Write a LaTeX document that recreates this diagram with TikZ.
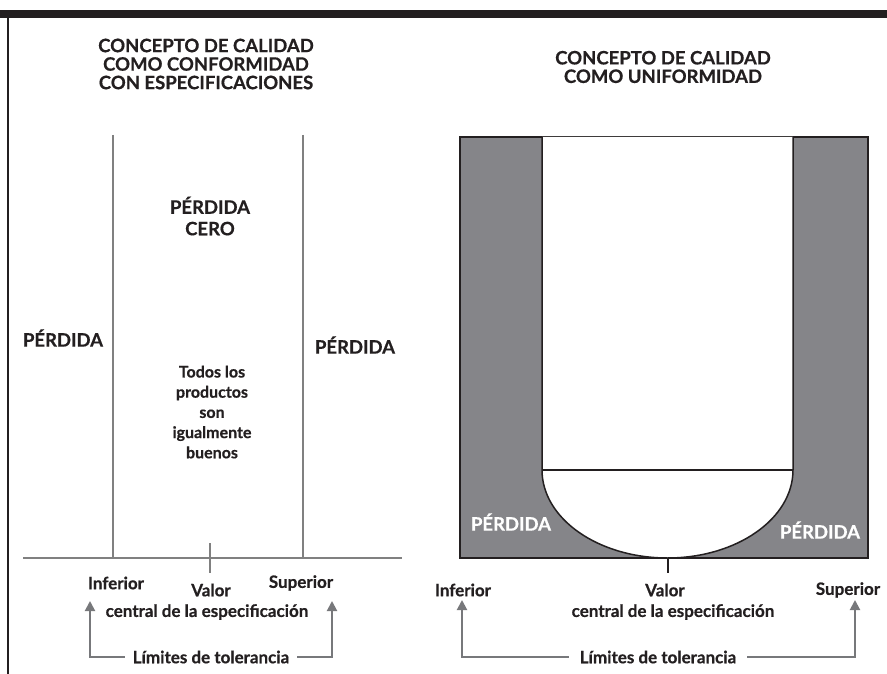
\documentclass[tikz,border=0pt]{standalone}
\usepackage{fontspec}
\setmainfont{Lato}[BoldFeatures={FakeBold=0.6}]
\usetikzlibrary{arrows.meta}
\definecolor{ink}{HTML}{231F20}
\definecolor{limgray}{HTML}{808080}
\definecolor{lossgray}{HTML}{858589}
\definecolor{tolgray}{HTML}{77787B}

\begin{document}
\begin{tikzpicture}[x=1pt, y=-1pt, text=ink,
    title/.style={font=\fontsize{18.5}{18.5}\selectfont\bfseries, align=center},
    lbl/.style={font=\fontsize{16}{20.2}\selectfont\bfseries, align=center, inner sep=1pt},
    axislbl/.style={lbl, font=\fontsize{17}{20}\selectfont\bfseries},
    loss/.style={font=\fontsize{18.5}{20}\selectfont\bfseries, inner sep=1pt},
    tolname/.style={axislbl, outer sep=7pt},
    limit/.style={draw=limgray, line width=1.6pt},
    tol/.style={draw=tolgray, line width=2pt, -{Triangle[width=10pt,length=10pt]}}]
        \useasboundingbox (0,0) rectangle (887,674);
        \fill[ink] (0,10) rectangle (887,18);
        \draw[ink, line width=1.2pt] (8,18) -- (8,674);

        % conformidad con especificaciones
        \node[title] (titleA) at (206,64) {CONCEPTO DE CALIDAD\\COMO CONFORMIDAD\\CON ESPECIFICACIONES};
        \draw[limit] (113,135) -- (113,558);
        \draw[limit] (303,135) -- (303,558);
        \draw[limit] (23,558) -- (402,558);
        \draw[limit] (210,543) -- (210,573);
        \node[loss] (lossA1) at (63,338) {PÉRDIDA};
        \node[loss] (lossA2) at (355,345) {PÉRDIDA};
        \node[loss, align=center, font=\fontsize{18.5}{21.5}\selectfont\bfseries] (zero) at (210,216) {PÉRDIDA\\CERO};
        \node[lbl] (equal) at (212,412) {Todos los\\productos\\son\\igualmente\\buenos};
        \node[axislbl] (infA) at (116,583) {Inferior};
        \node[axislbl] (valA) at (211,590) {Valor};
        \node[axislbl] (supA) at (301,583) {Superior};
        \node[axislbl] (centA) at (207,612) {central de la especificación};
        \node[tolname] (tolA) at (211,657) {Límites de tolerancia};
        \coordinate (tipA1) at (90,601);
        \coordinate (tipA2) at (332,601);
        \draw[tol] (tolA.west) -| (tipA1);
        \draw[tol] (tolA.east) -| (tipA2);

        % uniformidad
        \node[title] (titleB) at (663,67) {CONCEPTO DE CALIDAD\\COMO UNIFORMIDAD};
        \filldraw[fill=lossgray, draw=ink, line width=1.5pt] (460,137) rectangle (868,558);
        \filldraw[fill=white, draw=ink, line width=1.5pt] (542,137) -- (542,470)
          arc[start angle=180, end angle=0, x radius=125.5, y radius=88] -- (793,137);
        \draw[ink, line width=1.5pt] (542,470) -- (793,470);
        \draw[ink, line width=1.5pt] (668,558) -- (668,573);
        \node[loss, text=white] (lossB1) at (511,522) {PÉRDIDA};
        \node[loss, text=white] (lossB2) at (820,530) {PÉRDIDA};
        \node[axislbl] (infB) at (463,590) {Inferior};
        \node[axislbl] (valB) at (665,590) {Valor};
        \node[axislbl] (supB) at (848,590) {Superior};
        \node[axislbl] (centB) at (673,612) {central de la especificación};
        \node[tolname, outer sep=10pt] (tolB) at (658,657) {Límites de tolerancia};
        \coordinate (tipB1) at (462,600);
        \coordinate (tipB2) at (855,600);
        \draw[tol] (tolB.west) -| (tipB1);
        \draw[tol] (tolB.east) -| (tipB2);
\end{tikzpicture}
\end{document}
